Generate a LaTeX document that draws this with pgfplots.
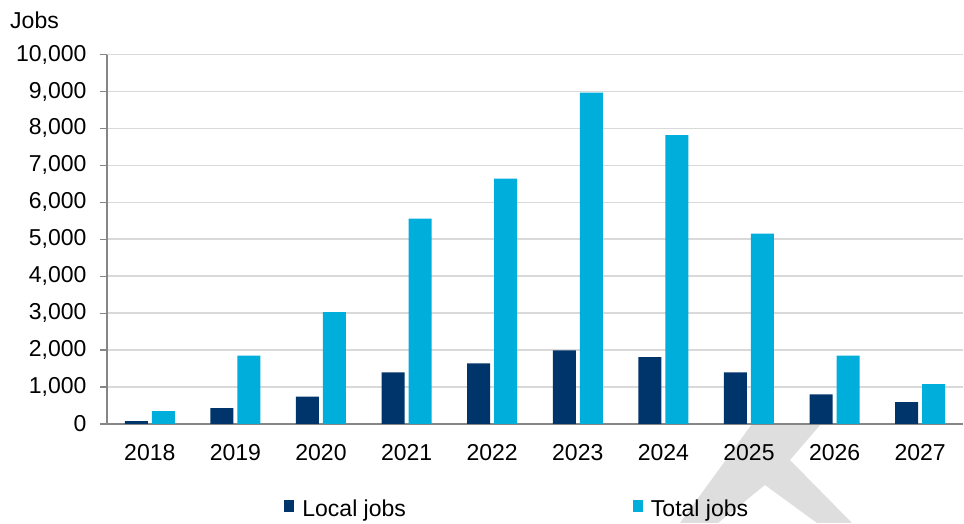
\documentclass[border=0pt]{standalone}
\usepackage{fontspec}
\setmainfont{Liberation Sans}
\usepackage{pgfplots}
\pgfplotsset{compat=1.18}
\definecolor{navy}{HTML}{00356B}
\definecolor{cyanbar}{HTML}{00AEDC}
\definecolor{gridc}{HTML}{D9D9D9}
\definecolor{axisc}{HTML}{868686}
\definecolor{wm}{HTML}{DEDEDE}
\begin{document}
\begin{tikzpicture}[font=\fontsize{23}{27}\selectfont]
\begin{axis}[
 set layers,
 scale only axis, width=856pt, height=369.5pt,
 ybar=4pt, bar width=23pt,
 xmin=-0.5, xmax=9.5, ymin=0, ymax=10000,
 xtick={0,...,9},
 xticklabels={2018,2019,2020,2021,2022,2023,2024,2025,2026,2027},
 ytick={0,1000,...,10000},
 scaled y ticks=false,
 /pgf/number format/1000 sep={,},
 /pgf/number format/assume math mode=true,
 axis x line*=bottom, axis y line*=left,
 x axis line style={draw=axisc, line width=2pt, -},
 y axis line style={draw=axisc, line width=1.5pt, -},
 xtick style={draw=none},
 ytick style={draw=axisc, line width=1.2pt},
 tick align=outside, major tick length=7pt,
 ymajorgrids, major grid style={draw=gridc, line width=1.5pt},
 yticklabel style={xshift=-10pt},
 xticklabel style={yshift=-10pt},
 clip=false,
 legend style={draw=none, fill=none, at={(0.4793,-0.231)}, anchor=center,
   legend columns=2,
   /tikz/every odd column/.append style={column sep=6pt},
   /tikz/every even column/.append style={column sep=225pt}},
]
\begin{pgfonlayer}{axis background}
\fill[wm] (axis cs:7.035,0) -- (axis cs:7.841,0) -- (axis cs:7.479,-974)
  -- (axis cs:8.203,-2679) -- (axis cs:7.794,-2679) -- (axis cs:7.187,-1651)
  -- (axis cs:6.638,-2679) -- (axis cs:6.194,-2679) -- cycle;
\end{pgfonlayer}
\addplot[fill=navy, draw=none, legend image code/.code={\fill[navy] (0pt,-3pt) rectangle (10pt,9pt);}]
  coordinates {(0,80) (1,430) (2,740) (3,1400) (4,1640) (5,1990) (6,1810) (7,1400) (8,800) (9,595)};
\addlegendentry{Local jobs}
\addplot[fill=cyanbar, draw=none, legend image code/.code={\fill[cyanbar] (0pt,-3pt) rectangle (10pt,9pt);}]
  coordinates {(0,350) (1,1850) (2,3030) (3,5560) (4,6640) (5,8970) (6,7820) (7,5150) (8,1850) (9,1080)};
\addlegendentry{Total jobs}
\node[anchor=base west, inner sep=0pt] at (rel axis cs:-0.1133,1.0717) {Jobs};
\coordinate (bbsw) at (rel axis cs:-0.125,-0.268);
\coordinate (bbne) at (rel axis cs:1.0012,1.1475);
\end{axis}
\pgfresetboundingbox
\path[use as bounding box] (bbsw) rectangle (bbne);
\end{tikzpicture}
\end{document}
